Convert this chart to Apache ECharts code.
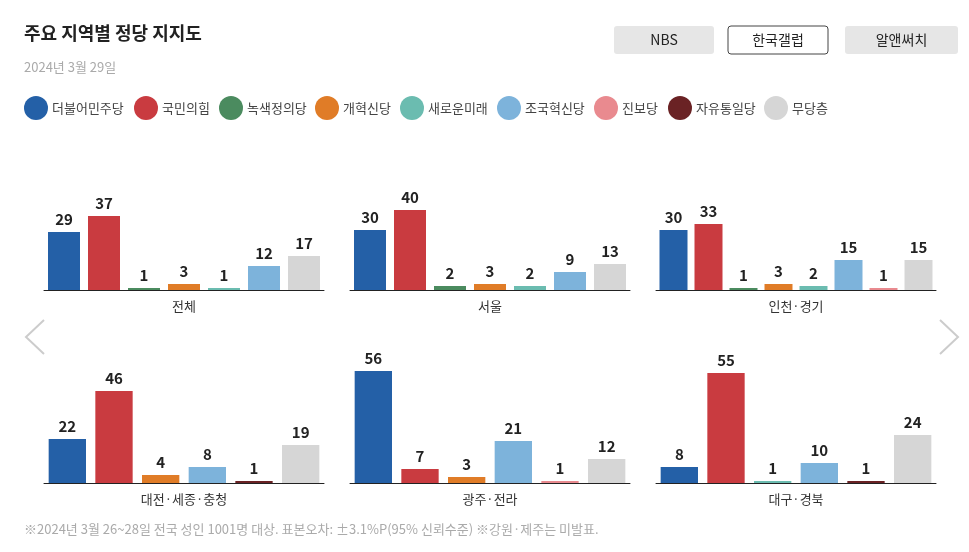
<!DOCTYPE html>
<html><head><meta charset="utf-8">
<script src="https://cdn.jsdelivr.net/npm/echarts@6/dist/echarts.min.js"></script>
<style>html,body{margin:0;padding:0;background:#fff}#c{width:969px;height:552px}</style>
</head><body><div id="c"></div>
<script>
const parties = ['더불어민주당','국민의힘','녹색정의당','개혁신당','새로운미래','조국혁신당','진보당','자유통일당','무당층'];
const partyColors = ['#2460a7','#c93b40','#4b8b5f','#e07c27','#6bbcb0','#7db3db','#e98a8f','#6a2224','#d6d6d6'];
const regions = ['전체','서울','인천·경기','대전·세종·충청','광주·전라','대구·경북'];
const regionParties = [
  ['더불어민주당','국민의힘','녹색정의당','개혁신당','새로운미래','조국혁신당','무당층'],
  ['더불어민주당','국민의힘','녹색정의당','개혁신당','새로운미래','조국혁신당','무당층'],
  ['더불어민주당','국민의힘','녹색정의당','개혁신당','새로운미래','조국혁신당','진보당','무당층'],
  ['더불어민주당','국민의힘','개혁신당','조국혁신당','자유통일당','무당층'],
  ['더불어민주당','국민의힘','개혁신당','조국혁신당','진보당','무당층'],
  ['더불어민주당','국민의힘','새로운미래','조국혁신당','자유통일당','무당층']
];
const regionValues = [
  [29,37,1,3,1,12,17],
  [30,40,2,3,2,9,13],
  [30,33,1,3,2,15,1,15],
  [22,46,4,8,1,19],
  [56,7,3,21,1,12],
  [8,55,1,10,1,24]
];
const legendX = [24,134,219,315,400,497,594,668,764];
const font = 'Noto Sans CJK KR';
const chart = echarts.init(document.getElementById('c'));
const grids=[],xAxes=[],yAxes=[],series=[];
const lefts=[44,350,656], tops=[170,363];
regions.forEach((r,i)=>{
  const col=i%3,row=Math.floor(i/3);
  grids.push({left:lefts[col],top:tops[row],width:280,height:120});
  xAxes.push({type:'category',gridIndex:i,data:regionParties[i],axisTick:{show:false},axisLabel:{show:false},
    axisLine:{lineStyle:{color:'#222',width:1}},name:r,nameLocation:'middle',nameGap:10,
    nameTextStyle:{color:'#333',fontSize:13,fontFamily:font}});
  yAxes.push({type:'value',gridIndex:i,min:0,max:60,show:false,splitLine:{show:false}});
  series.push({type:'bar',xAxisIndex:i,yAxisIndex:i,barCategoryGap:'20%',
    data:regionValues[i].map((v,j)=>({value:v,itemStyle:{color:partyColors[parties.indexOf(regionParties[i][j])]}})),
    label:{show:true,position:'top',color:'#222',fontSize:15,fontWeight:'bold',fontFamily:font,distance:5}});
});
const graphic=[
  {type:'text',left:24,top:24,style:{text:'주요 지역별 정당 지지도',font:'bold 18px "Noto Sans CJK KR"',fill:'#222'}},
  {type:'text',left:24,top:61,style:{text:'2024년 3월 29일',font:'13px "Noto Sans CJK KR"',fill:'#aaa'}},
  {type:'text',left:24,top:523,style:{text:'※2024년 3월 26~28일 전국 성인 1001명 대상. 표본오차: ±3.1%P(95% 신뢰수준) ※강원·제주는 미발표.',font:'13px "Noto Sans CJK KR"',fill:'#aaa'}},
  {type:'polyline',shape:{points:[[44,320],[26,337],[44,354]]},style:{stroke:'#ccc',lineWidth:2,fill:null}},
  {type:'polyline',shape:{points:[[940,320],[958,337],[940,354]]},style:{stroke:'#ccc',lineWidth:2,fill:null}}
];
[['NBS',614,100,false],['한국갤럽',728,100,true],['알앤써치',845,113,false]].forEach(b=>{
  graphic.push({type:'rect',shape:{x:b[1],y:26,width:b[2],height:28,r:3},style:{fill:b[3]?'#fff':'#e6e6e6',stroke:b[3]?'#444':null,lineWidth:1}});
  graphic.push({type:'text',x:b[1]+b[2]/2,y:40,style:{text:b[0],font:'14px "Noto Sans CJK KR"',fill:'#222',align:'center',verticalAlign:'middle'}});
});
parties.forEach((p,i)=>{
  graphic.push({type:'circle',shape:{cx:legendX[i]+12,cy:108,r:12},style:{fill:partyColors[i]}});
  graphic.push({type:'text',x:legendX[i]+28,y:108,style:{text:p,font:'13px "Noto Sans CJK KR"',fill:'#444',verticalAlign:'middle'}});
});
chart.setOption({animation:false,grid:grids,xAxis:xAxes,yAxis:yAxes,series,graphic});
</script></body></html>
